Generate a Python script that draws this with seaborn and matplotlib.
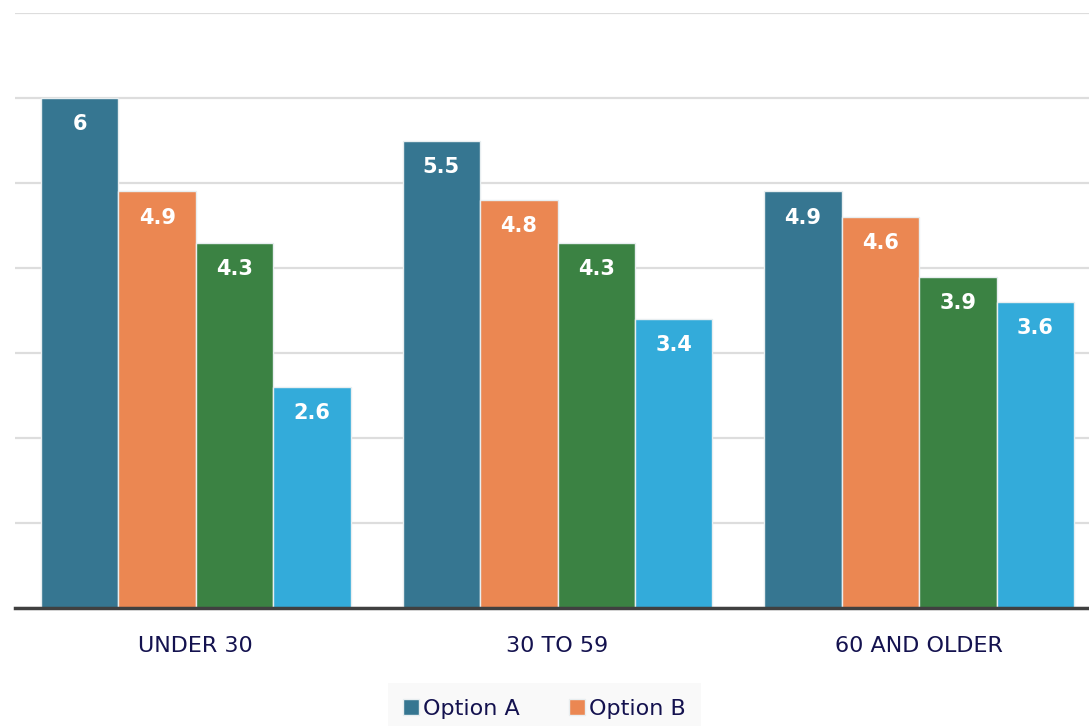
import pandas as pd
import numpy as np
import matplotlib
matplotlib.use('Agg')
import matplotlib.pyplot as plt
import seaborn as sns

# Data
groups = ['UNDER 30', '30 TO 59', '60 AND OLDER']
options = ['Option A', 'Option B', 'Option C', 'Option D']
option_a = [6.0, 5.5, 4.9]
option_b = [4.9, 4.8, 4.6]
option_c = [4.3, 4.3, 3.9]
option_d = [2.6, 3.4, 3.6]
colors = ['#367691', '#EB8752', '#3B8243', '#33ABDA']

df = pd.DataFrame({
    'group': groups * 4,
    'option': np.repeat(options, 3),
    'value': option_a + option_b + option_c + option_d,
})

sns.set_theme(style='white')
plt.rcParams['font.family'] = ['DejaVu Sans']

fig = plt.figure(figsize=(10.89, 7.26), dpi=100)
ax = fig.add_axes([15 / 1089, 118 / 726, 1085 / 1089, 595 / 726])

sns.barplot(data=df, x='group', y='value', hue='option', palette=colors,
            width=0.856, gap=0, edgecolor='#e8eef0', linewidth=1,
            saturation=1, ax=ax, legend=True)

for c in ax.containers:
    ax.bar_label(c, labels=[f'{v:g}' for v in c.datavalues], padding=-26,
                 color='white', fontweight='bold', fontsize=15)

ax.set_xlim(-0.5, 2.5)
ax.set_ylim(0, 7)
ax.set_yticks(range(0, 8))
ax.set_yticklabels([])
ax.yaxis.grid(True, color='#dddddd', linewidth=1.6)
ax.set_axisbelow(True)
ax.set_xlabel('')
ax.set_ylabel('')
ax.tick_params(axis='x', length=0, pad=20, labelsize=16, labelcolor='#14124f')
ax.tick_params(axis='y', length=0)
for side in ['top', 'right', 'left']:
    ax.spines[side].set_visible(False)
ax.spines['bottom'].set_color('#404040')
ax.spines['bottom'].set_linewidth(2.5)

# only the first legend row is visible in the reference (the rest is cropped)
handles, labels = ax.get_legend_handles_labels()
ax.legend_.remove()
leg = fig.legend(handles[:2], labels[:2], ncol=2, loc='upper center',
                 bbox_to_anchor=(0.5, 1 - 683 / 726), borderaxespad=0,
                 frameon=True, fontsize=16, handlelength=0.7, handleheight=0.7,
                 handletextpad=0.2, columnspacing=2.2, borderpad=0.7)
leg.get_frame().set_facecolor('#f8f8f8')
leg.get_frame().set_edgecolor('none')
leg.get_frame().set_boxstyle('square', pad=0)
for t in leg.get_texts():
    t.set_color('#14124f')

fig.savefig('out.png', dpi=100)
